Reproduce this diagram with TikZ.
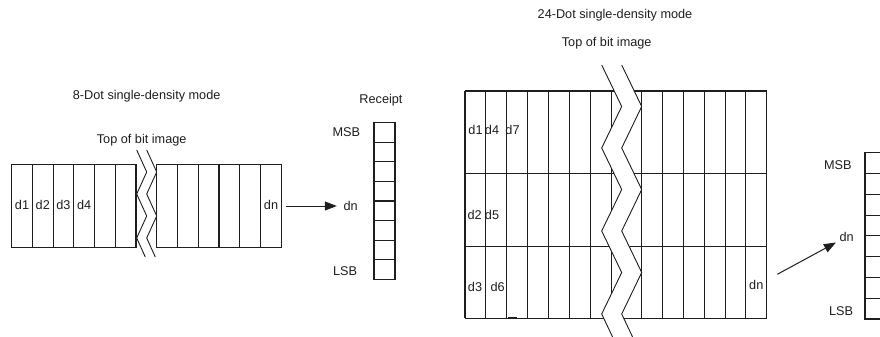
\documentclass[tikz,border=0pt]{standalone}
\usepackage{fontspec}
\setmainfont{Liberation Sans}
\usetikzlibrary{arrows.meta,positioning}
\definecolor{ink}{HTML}{1E1E1E}
\definecolor{paper}{HTML}{FFFFFF}
\tikzset{
  cellline/.style={draw=ink,line width=1.05pt},
  boldedge/.style={draw=ink,line width=2pt},
  zigline/.style={draw=ink,line width=0.9pt,line join=miter},
  bandfill/.style={fill=paper,draw=none},
  ptrarr/.style={-{Triangle[length=12pt,width=9pt]},line width=1pt,color=ink},
  lbl/.style={inner sep=0pt,font=\fontsize{12.7}{14}\selectfont,text=ink}
}
\begin{document}
\begin{tikzpicture}[x=1pt,y=-1pt]
  \clip (0,0) rectangle (880,337);
  % 8-dot single-density
  \foreach \k in {0,...,6} {
    \draw[cellline] ({11.7+20.72*\k},164.3) -- ++(0,83.4);
    \draw[cellline] ({156.7+20.77*\k},164.3) -- ++(0,83.4);
  }
  \draw[cellline] (11.7,164.3) -- (136,164.3) (11.7,247.7) -- (136,247.7);
  \draw[cellline] (156.7,164.3) -- (281.3,164.3) (156.7,247.7) -- (281.3,247.7);
  \path[bandfill] (136.7,150) -- (146.7,172) -- (136.7,194) -- (146.7,216) -- (136.7,238) -- (145.3,257)
    -- (155.3,257) -- (146.7,238) -- (156.7,216) -- (146.7,194) -- (156.7,172) -- (146.7,150) -- cycle;
  \draw[zigline] (136.7,150) -- (146.7,172) -- (136.7,194) -- (146.7,216) -- (136.7,238) -- (145.3,257);
  \draw[zigline] (146.7,150) -- (156.7,172) -- (146.7,194) -- (156.7,216) -- (146.7,238) -- (155.3,257);
  \node[lbl] (titleA) at (146.7,96.7) {8-Dot single-density mode};
  \node[lbl] (topA) at (141.7,140.7) {Top of bit image};
  \foreach \k/\t in {0/d1,1/d2,2/d3,3/d4}
    \node[lbl] (cA\k) at ({22.06+20.72*\k},205) {\t};
  \node[lbl] (cAn) at (271,205) {dn};
  % receipt column
  \foreach \k in {0,...,7}
    \draw[cellline] (374,{122.7+19.58*\k}) rectangle (395,{122.7+19.58*(\k+1)});
  \node[lbl] (rcpt) at (381,100) {Receipt};
  \node[lbl] (msbA) at (346.3,131.7) {MSB};
  \node[lbl] (lsbA) at (345,271) {LSB};
  \coordinate (srcA) at (286,206);
  \node[lbl,anchor=west] (dnA) at (343.3,206) {dn};
  \draw[ptrarr,shorten >=6.5pt] (srcA) -- (dnA);

  % 24-dot single-density
  \foreach \k in {0,...,7}
    \draw[cellline] ({465+20.95*\k},91) -- ++(0,227.3);
  \foreach \k in {0,...,6}
    \draw[cellline] ({641.7+20.83*\k},91) -- ++(0,227.3);
  \foreach \y in {91,173.7,246.3,318.3}
    \draw[cellline] (465,\y) -- (766.7,\y);
  \draw[boldedge] (508,91) -- (527.5,91);
  \draw[boldedge] (508,318.3) -- (517,318.3);
  \path[bandfill] (601.7,65) -- (621.7,106.5) -- (601.7,148) -- (621.7,189.5) -- (601.7,231) -- (621.7,272.5) -- (601.7,314) -- (614,340)
    -- (634,340) -- (621.7,314) -- (641.7,272.5) -- (621.7,231) -- (641.7,189.5) -- (621.7,148) -- (641.7,106.5) -- (621.7,65) -- cycle;
  \draw[zigline] (601.7,65) -- (621.7,106.5) -- (601.7,148) -- (621.7,189.5) -- (601.7,231) -- (621.7,272.5) -- (601.7,314) -- (614,340);
  \draw[zigline] (621.7,65) -- (641.7,106.5) -- (621.7,148) -- (641.7,189.5) -- (621.7,231) -- (641.7,272.5) -- (621.7,314) -- (634,340);
  \node[lbl] (titleB) at (615,15) {24-Dot single-density mode};
  \node[lbl] (topB) at (606.7,43.3) {Top of bit image};
  \node[lbl] (cB1) at (475.5,130) {d1};
  \node[lbl] (cB4) at (492,130) {d4};
  \node[lbl] (cB7) at (512.5,130) {d7};
  \node[lbl] (cB2) at (474.7,215) {d2};
  \node[lbl] (cB5) at (492,215) {d5};
  \node[lbl] (cB3) at (475,286.7) {d3};
  \node[lbl] (cB6) at (497.7,286.7) {d6};
  \node[lbl] (cBn) at (756.3,285) {dn};
  % MSB/LSB column, cut at the right edge
  \foreach \k in {0,...,7}
    \draw[cellline] (865,{152.7+20.79*\k}) rectangle (890,{152.7+20.79*(\k+1)});
  \node[lbl] (msbB) at (837.8,165) {MSB};
  \node[lbl] (lsbB) at (841,310.7) {LSB};
  \coordinate (srcB) at (777.3,274.3);
  \node[lbl] (dnB) at (846.7,236.7) {dn};
  \draw[ptrarr,shorten >=4pt] (srcB) -- (dnB);
\end{tikzpicture}
\end{document}
